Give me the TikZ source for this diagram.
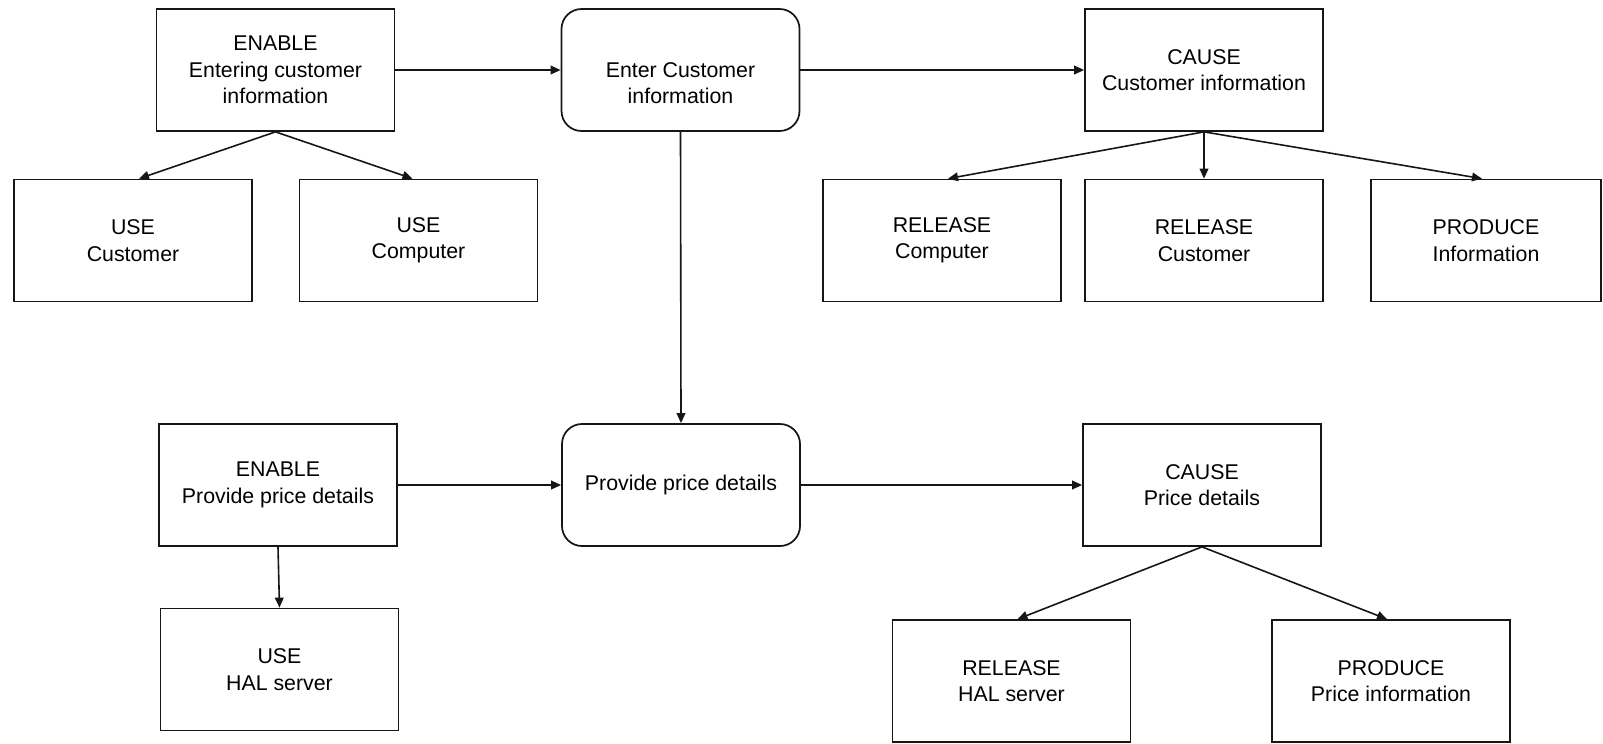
\documentclass[tikz,border=0pt]{standalone}
\usepackage{fontspec}
\setmainfont{Liberation Sans}
\usetikzlibrary{arrows.meta,calc}

\definecolor{ink}{HTML}{161616}

\tikzset{
  box/.style={draw=ink, line width=1.3pt, minimum width=178.5pt, minimum height=91.5pt,
              inner sep=0pt, align=center, font=\fontsize{16}{19.8}\selectfont},
  roundbox/.style={box, rounded corners=15pt},
  boxtext/.style={inner sep=0pt, align=center, font=\fontsize{16}{19.8}\selectfont},
  link/.style={draw=ink, line width=1.2pt, -{Triangle[length=7.5pt,width=6.5pt]}}
}

\begin{document}
\begin{tikzpicture}[x=0.75pt,y=-0.75pt]
  \useasboundingbox (0,0) rectangle (1603,743);

  % top chain: entering customer information
  \node[box] (en1) at (275.5,70) {ENABLE\\Entering customer\\information};
  \node[roundbox] (eci) at (680.5,70) {};
  \node[boxtext] (ecitext) at ($(eci.center)+(0,13)$) {Enter Customer\\information};
  \node[box] (ca1) at (1204,70) {CAUSE\\Customer information};

  \node[box] (ucust) at (133,240.5) {USE\\Customer};
  \node[box] (ucomp) at (418.5,240.5) {USE\\Computer};
  \node[box] (rcomp) at (942,240.5) {RELEASE\\Computer};
  \node[box] (rcust) at (1204,240.5) {RELEASE\\Customer};
  \node[box, minimum width=172.5pt] (pinfo) at (1486,240.5) {PRODUCE\\Information};

  % bottom chain: providing price details
  \node[box] (en2) at (278,485) {ENABLE\\Provide price details};
  \node[roundbox] (ppd) at (681,485) {Provide price details};
  \node[box] (ca2) at (1202,485) {CAUSE\\Price details};

  \node[box] (uhal) at (279.5,669.5) {USE\\HAL server};
  \node[box] (rhal) at (1011.5,681) {RELEASE\\HAL server};
  \node[box] (pprice) at (1391,681) {PRODUCE\\Price information};

  % connectors
  \draw[link] (en1.east) -- (eci.west);
  \draw[link] (eci.east) -- (ca1.west);
  \draw[link] (eci.south) -- (ppd.north);
  \draw[link] (en1.south) -- ($(ucust.north)+(6,0)$);
  \draw[link] (en1.south) -- ($(ucomp.north)+(-6,0)$);
  \draw[link] (ca1.south) -- ($(rcomp.north)+(6,0)$);
  \draw[link] (ca1.south) -- (rcust.north);
  \draw[link] (ca1.south) -- ($(pinfo.north)+(-4,0)$);

  \draw[link] (en2.east) -- (ppd.west);
  \draw[link] (ppd.east) -- (ca2.west);
  \draw[link] (en2.south) -- (uhal.north);
  \draw[link] (ca2.south) -- ($(rhal.north)+(6,0)$);
  \draw[link] (ca2.south) -- ($(pprice.north)+(-4,0)$);
\end{tikzpicture}
\end{document}
